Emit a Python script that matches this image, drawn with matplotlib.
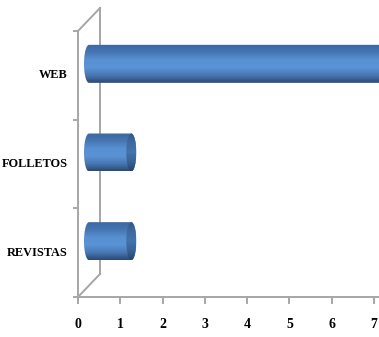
import matplotlib.pyplot as plt
import numpy as np
from matplotlib.path import Path
from matplotlib.patches import PathPatch, Ellipse
from matplotlib.colors import LinearSegmentedColormap

categories = ["REVISTAS", "FOLLETOS", "WEB"]
values = [1, 1, 7]
x_ticks = [0, 1, 2, 3, 4, 5, 6, 7]

fig = plt.figure(figsize=(3.79, 3.37), dpi=100)
ax = fig.add_axes([0, 0, 1, 1])

# pixel scale of the value and category axes
px_x = 296 / 7
px_y = 266 / 3
depth_x = 22 / px_x
depth_y = 23 / px_y
wall = "#a6a6a6"
n_cat = len(categories)

body_cmap = LinearSegmentedColormap.from_list(
    "body", ["#2b4872", "#4878b4", "#5a94d6", "#5890d2", "#4675b2", "#3b68a2"])
cap_cmap = LinearSegmentedColormap.from_list(
    "cap", ["#27436a", "#3a6296", "#4573ac", "#3e6aa0", "#33588a"])
grad = np.linspace(0, 1, 256).reshape(-1, 1)


def half_ellipse(xc, yc, a, b, t0, t1, n=40):
    t = np.linspace(t0, t1, n)
    return np.column_stack([xc + a * np.cos(t), yc + b * np.sin(t)])


def cylinder(x0, x1, yc, h, a):
    b = h / 2
    right = half_ellipse(x1, yc, a, b, np.pi / 2, -np.pi / 2)
    left = half_ellipse(x0, yc, a, b, -np.pi / 2, -3 * np.pi / 2)
    verts = np.vstack([[x0, yc + b], right, left, [x0, yc + b]])
    codes = [Path.MOVETO] + [Path.LINETO] * (len(verts) - 2) + [Path.CLOSEPOLY]
    body = PathPatch(Path(verts, codes), facecolor="none", edgecolor="none", zorder=3)
    ax.add_patch(body)
    im = ax.imshow(grad, extent=[x0 - a, x1 + a, yc - b, yc + b], origin="lower",
                   aspect="auto", cmap=body_cmap, zorder=3)
    im.set_clip_path(body)
    cap = Ellipse((x1, yc), 2 * a, h, facecolor="none", edgecolor="none", zorder=4)
    ax.add_patch(cap)
    im2 = ax.imshow(grad, extent=[x1 - a, x1 + a, yc - b, yc + b], origin="lower",
                    aspect="auto", cmap=cap_cmap, zorder=4)
    im2.set_clip_path(cap)


# walls of the 3D frame
ax.plot([0, 0], [0, n_cat], color=wall, lw=1.4, zorder=1)
ax.plot([depth_x, depth_x], [depth_y, n_cat + depth_y], color=wall, lw=1.4, zorder=1)
ax.plot([0, depth_x], [n_cat, n_cat + depth_y], color=wall, lw=1.4, zorder=1)
ax.plot([0, depth_x], [0, depth_y], color=wall, lw=1.4, zorder=1)
ax.plot([0, 8], [0, 0], color=wall, lw=1.4, zorder=1)
for i in range(n_cat + 1):
    ax.plot([0, -4 / px_x], [i, i], color=wall, lw=1.4, zorder=1)
for v in x_ticks:
    ax.plot([v, v], [0, -6 / px_y], color=wall, lw=1.4, zorder=1)

# bars
bar_h = 38 / px_y
cap_a = 5 / px_x
for i, v in enumerate(values):
    x0 = depth_x / 2
    yc = i + 0.5 + depth_y / 2
    cylinder(x0, x0 + v, yc, bar_h, cap_a)

font = dict(family=["Liberation Serif", "DejaVu Serif"], color="black",
            fontweight="bold")
for i, name in enumerate(categories):
    ax.text(-10 / px_x, i + 0.5, name, ha="right", va="center", fontsize=8.8, **font)
for v in x_ticks:
    ax.text(v, -27 / px_y, str(v), ha="center", va="center", fontsize=10, **font)

ax.set_xlim(-78 / px_x, (379 - 78) / px_x)
ax.set_ylim(-(337 - 297) / px_y, n_cat + 31 / px_y)
ax.axis("off")

fig.savefig("out.png", dpi=100)
